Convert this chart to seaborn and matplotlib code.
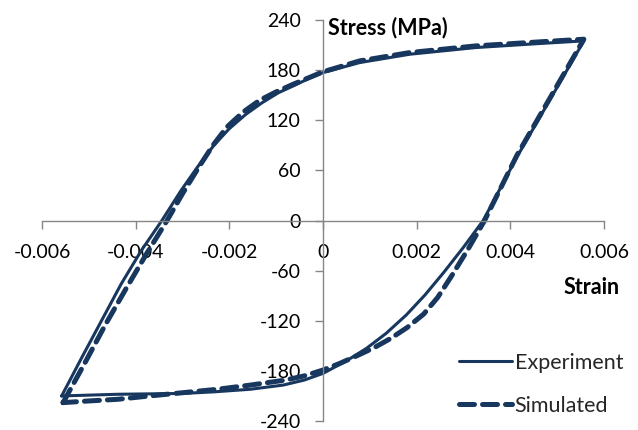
"""
Cyclic stress-strain loop: experiment vs simulation.
"""

import pandas as pd
import seaborn as sns
import matplotlib.pyplot as plt

# Experiment loop (strain, MPa): loading branch then unloading branch
exp_strain = [-0.00558, -0.00515, -0.00473, -0.00431, -0.00388, -0.00344, -0.00303, -0.00268,
              -0.00233, -0.00200, -0.00165, -0.00130, -0.00095, -0.00060, -0.00030, 0.0,
              0.00078, 0.00185, 0.00326, 0.00467, 0.00557,
              0.00484, 0.00414, 0.00342, 0.00300, 0.00258, 0.00218, 0.00178, 0.00135,
              0.00093, 0.00050, 0.0, -0.00040, -0.00085, -0.00155, -0.00230, -0.00297,
              -0.00438, -0.00558]
exp_stress = [-210, -164, -120, -76, -36, 0, 36, 64,
              90, 110, 127, 141, 153, 162, 170, 177,
              189, 199, 207, 212, 215,
              144, 76, 0, -32, -62, -89, -113, -135,
              -153, -168, -183, -191, -197, -202, -205, -207,
              -208, -210]

# Simulated loop
sim_strain = [-0.00555, -0.00508, -0.00464, -0.00421, -0.00377, -0.00333, -0.00298, -0.00265,
              -0.00235, -0.00205, -0.00170, -0.00135, -0.00100, -0.00064, -0.00030, 0.0,
              0.00078, 0.00185, 0.00326, 0.00467, 0.00557,
              0.00484, 0.00414, 0.00345, 0.00310, 0.00275, 0.00245, 0.00215, 0.00180,
              0.00145, 0.00110, 0.00072, 0.00036, 0.0, -0.00040, -0.00080, -0.00155,
              -0.00225, -0.00297, -0.00370, -0.00438, -0.00500, -0.00555]
sim_stress = [-218, -170, -124, -82, -40, 0, 34, 64,
              90, 112, 130, 144, 154, 163, 171, 178,
              191, 201, 209, 214, 217,
              146, 78, 0, -34, -66, -92, -112, -128,
              -141, -152, -162, -171, -179, -186, -191, -197,
              -202, -206, -210, -214, -216, -218]

xticks = [-0.006, -0.004, -0.002, 0, 0.002, 0.004, 0.006]
xticklabels = ['-0.006', '-0.004', '-0.002', '0', '0.002', '0.004', '0.006']
yticks = [-240, -180, -120, -60, 0, 60, 120, 180, 240]

sns.set_theme(style="ticks")
plt.rcParams['font.family'] = ['Lato', 'DejaVu Sans']

line_color = '#17375E'
axis_color = '#868686'

exp = pd.DataFrame({'Strain': exp_strain, 'Stress': exp_stress})
sim = pd.DataFrame({'Strain': sim_strain, 'Stress': sim_stress})

fig = plt.figure(figsize=(6.38, 4.30), dpi=100)
ax = fig.add_axes([42 / 638, 9 / 430, 562 / 638, 401 / 430])

sns.lineplot(data=exp, x='Strain', y='Stress', sort=False, estimator=None, ax=ax,
             color=line_color, lw=2.2, label='Experiment', solid_joinstyle='round')
sns.lineplot(data=sim, x='Strain', y='Stress', sort=False, estimator=None, ax=ax,
             color=line_color, lw=3.6, linestyle=(0, (3, 1.6)), label='Simulated',
             dash_capstyle='round', dash_joinstyle='round')

ax.set_xlim(-0.006, 0.006)
ax.set_ylim(-240, 240)
ax.set_xticks(xticks)
ax.set_xticklabels(xticklabels)
ax.set_yticks(yticks)
ax.set_yticklabels([str(v) for v in yticks])

# axes crossing at the origin
for side in ['top', 'right']:
    ax.spines[side].set_visible(False)
for side in ['left', 'bottom']:
    ax.spines[side].set_position(('data', 0))
    ax.spines[side].set_color(axis_color)
    ax.spines[side].set_linewidth(1.0)
ax.tick_params(direction='out', length=6, width=1.0, color=axis_color,
               labelsize=14, labelcolor='black')
ax.tick_params(axis='x', pad=11)
ax.tick_params(axis='y', pad=10)

ax.set_xlabel('')
ax.set_ylabel('')
ax.text(0.0001, 231, 'Stress (MPa)', ha='left', va='center',
        fontsize=15.5, fontweight='bold', color='black')
ax.text(0.00633, -80, 'Strain', ha='right', va='center',
        fontsize=15.5, fontweight='bold', color='black', clip_on=False)

ax.legend(loc='upper left', bbox_to_anchor=(459 / 638, 1 - 353 / 430),
          bbox_transform=fig.transFigure, frameon=False, fontsize=15.5,
          handlelength=2.45, handletextpad=0.14, labelspacing=1.05,
          borderpad=0, borderaxespad=0)

plt.savefig('out.png', dpi=100)
